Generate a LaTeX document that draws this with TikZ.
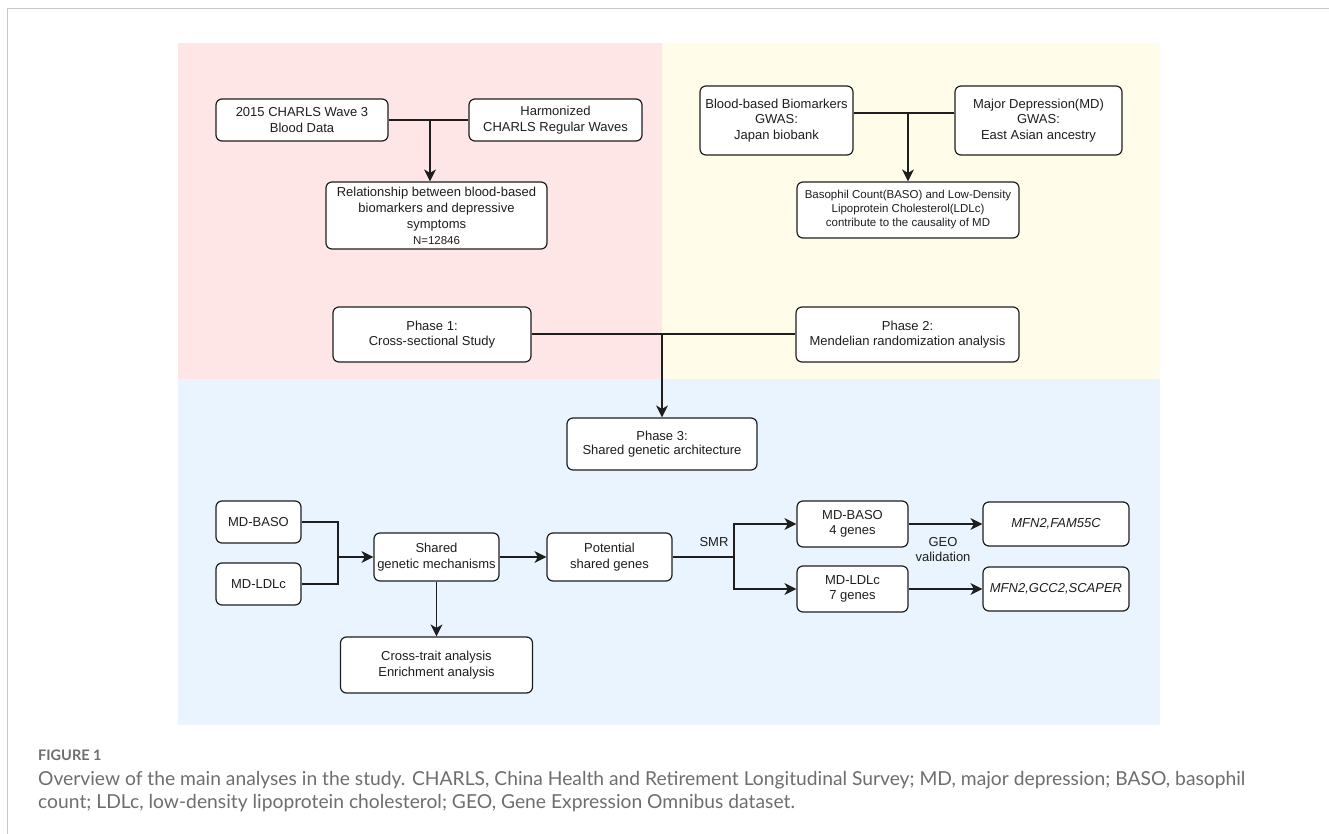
\documentclass[tikz,border=0pt]{standalone}
\usepackage{fontspec}
\setmainfont{Liberation Sans}
\newfontfamily\capfont{Lato}
\usetikzlibrary{arrows.meta}
\definecolor{pinkbg}{RGB}{254,230,230}
\definecolor{yellowbg}{RGB}{255,253,233}
\definecolor{bluebg}{RGB}{233,244,255}
\definecolor{capgray}{RGB}{110,110,110}
\definecolor{framegray}{RGB}{200,200,200}
\definecolor{ink}{RGB}{30,30,30}
\newlength\capw
\begin{document}
\settowidth\capw{\capfont\fontsize{10}{12}\selectfont Overview of the main analyses in the study. CHARLS, China Health and Retirement Longitudinal Survey; MD, major depression; BASO, basophil}%
\pgfmathsetmacro\capsz{10*1207/\capw}%
\begin{tikzpicture}[x=1pt,y=-1pt,
  bx/.style={draw=ink, line width=1.2pt, rounded corners=6pt, fill=white, align=center, inner sep=0pt, text=ink, font=\fontsize{13}{15.5}\selectfont},
  conn/.style={line width=1.2pt, draw=ink},
  arr/.style={conn, -{Stealth[length=12pt,width=12pt,inset=3.5pt]}},
  lbl/.style={align=center, inner sep=0pt, text=ink, font=\fontsize{13}{15.5}\selectfont},
  captext/.style={anchor=base west, inner sep=0pt, text=capgray}]
\useasboundingbox (0,0) rectangle (1329,834);
\fill[white] (0,0) rectangle (1329,834);
% frame
\draw[framegray, line width=1pt] (7,834) -- (7,9) -- (1329,9);
% background regions
\fill[pinkbg] (178,43) rectangle (662,379);
\fill[yellowbg] (662,43) rectangle (1160,379);
\fill[bluebg] (178,379) rectangle (1160,725);

% Phase 1 region
\node[bx, minimum width=172pt, minimum height=42pt] (b1) at (302,120) {2015 CHARLS Wave 3\\Blood Data};
\node[bx, minimum width=173pt, minimum height=42pt] (b2) at (555.5,120) {Harmonized\\CHARLS Regular Waves};
\node[bx, minimum width=221pt, minimum height=67pt, font=\fontsize{13}{16}\selectfont] (b3) at (436.5,215.5) {Relationship between blood-based\\biomarkers and depressive\\symptoms\\{\fontsize{11.5}{14}\selectfont N=12846}};
\node[bx, minimum width=198pt, minimum height=55pt, font=\fontsize{13}{14.5}\selectfont] (p1) at (432,334.5) {Phase 1:\\Cross-sectional Study};

% Phase 2 region
\node[bx, minimum width=153pt, minimum height=69pt] (bb) at (776.5,120.5) {Blood-based Biomarkers\\GWAS:\\Japan biobank};
\node[bx, minimum width=167pt, minimum height=69pt] (md) at (1038.5,120.5) {Major Depression(MD)\\GWAS:\\East Asian ancestry};
\node[bx, minimum width=222pt, minimum height=56pt, font=\fontsize{11.5}{14}\selectfont] (bas) at (908,210) {Basophil Count(BASO) and Low-Density\\Lipoprotein Cholesterol(LDLc)\\contribute to the causality of MD};
\node[bx, minimum width=223pt, minimum height=55pt, font=\fontsize{13}{14.5}\selectfont] (p2) at (907.5,334.5) {Phase 2:\\Mendelian randomization analysis};

% Phase 3 region
\node[bx, minimum width=190pt, minimum height=52pt, font=\fontsize{13}{14.5}\selectfont] (p3) at (662,444) {Phase 3:\\Shared genetic architecture};
\node[bx, minimum width=85pt, minimum height=42pt] (mb) at (258.5,522) {MD-BASO};
\node[bx, minimum width=85pt, minimum height=42pt] (ml) at (258.5,584) {MD-LDLc};
\node[bx, minimum width=125pt, minimum height=48pt] (sh) at (436.5,557) {Shared\\genetic mechanisms};
\node[bx, minimum width=125pt, minimum height=48pt] (pot) at (609.5,557) {Potential\\shared genes};
\node[bx, minimum width=192pt, minimum height=56pt] (cr) at (436.5,665) {Cross-trait analysis\\Enrichment analysis};
\node[bx, minimum width=111pt, minimum height=46pt] (g4) at (852.5,524) {MD-BASO\\4 genes};
\node[bx, minimum width=111pt, minimum height=46pt] (g7) at (852.5,589) {MD-LDLc\\7 genes};
\node[bx, minimum width=146pt, minimum height=44pt] (r1) at (1056,524) {\itshape MFN2,FAM55C};
\node[bx, minimum width=146pt, minimum height=44pt] (r2) at (1056,589) {\itshape MFN2,GCC2,SCAPER};
\node[lbl] (smr) at (714,542) {SMR};
\node[lbl] (geo) at (943,549.5) {GEO\\validation};

% connectors
\coordinate (j1) at (430,120);
\draw[conn] (b1.east) -- (b2.west);
\draw[arr] (j1) -- (j1 |- b3.north);
\coordinate (j2) at (908,113);
\draw[conn] (bb.east |- j2) -- (md.west |- j2);
\draw[arr] (j2) -- (bas.north);
\coordinate (j3) at (662,334);
\draw[conn] (p1.east |- j3) -- (p2.west |- j3);
\draw[arr] (j3) -- (p3.north);
\coordinate (j4) at (338,557);
\draw[conn] (mb.east) -| (j4) |- (ml.east);
\draw[arr] (j4) -- (sh.west);
\draw[arr] (sh.east) -- (pot.west);
\draw[arr] (sh.south) -- (cr.north);
\coordinate (j5) at (734,557);
\draw[conn] (pot.east) -- (j5);
\draw[arr] (j5) |- (g4.west);
\draw[arr] (j5) |- (g7.west);
\draw[arr] (g4.east) -- (r1.west);
\draw[arr] (g7.east) -- (r2.west);

% caption
\node[captext, font=\capfont\bfseries\fontsize{14.5}{16}\selectfont] (fig) at (38,760) {FIGURE 1};
\node[captext, font=\capfont\fontsize{\capsz}{20}\selectfont] (c1) at (38,785) {Overview of the main analyses in the study. CHARLS, China Health and Retirement Longitudinal Survey; MD, major depression; BASO, basophil};
\node[captext, font=\capfont\fontsize{\capsz}{20}\selectfont] (c2) at (38,808) {count; LDLc, low-density lipoprotein cholesterol; GEO, Gene Expression Omnibus dataset.};
\end{tikzpicture}
\end{document}
